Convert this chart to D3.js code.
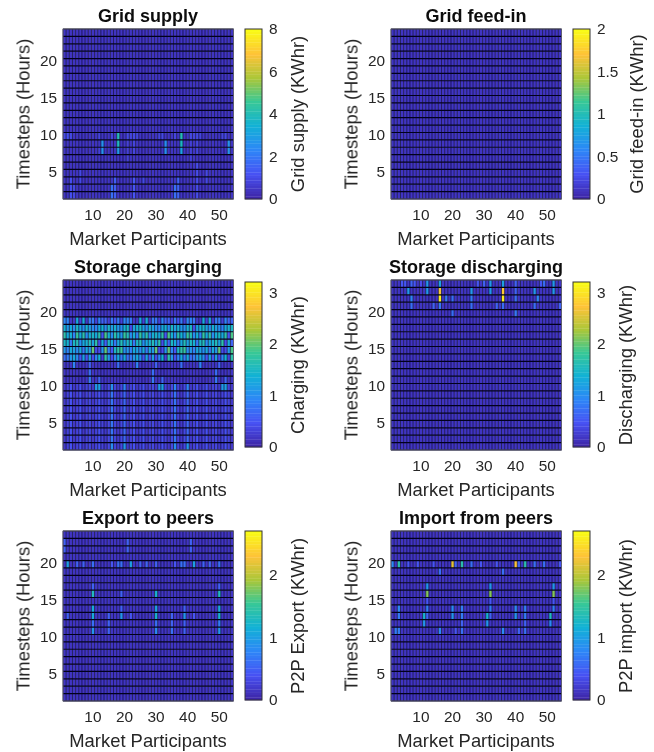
<!DOCTYPE html>
<html>
<head>
<meta charset="utf-8">
<script src="https://cdn.jsdelivr.net/npm/d3@7"></script>
<style>
    html, body { margin: 0; padding: 0; background: #fff; }
    svg { display: block; }
    text { font-family: "Liberation Sans", Arial, sans-serif; fill: #262626; }
    .domain { display: none; }
    .title { font-size: 18px; font-weight: bold; fill: #111; text-anchor: middle; }
    .label { font-size: 18.4px; text-anchor: middle; }
    .tick text { font-size: 15.4px; fill: #262626; }
</style>
</head>
<body>
<svg id="chart" width="654" height="752"></svg>
<script>
// all panels share the same axes
const participants = d3.range(1, 55);
const hours = d3.range(1, 24);
const xTicks = [10, 20, 30, 40, 50];
const yTicks = [5, 10, 15, 20];

// parula stops
const parulaStops = [0, 1 / 7, 2 / 7, 3 / 7, 4 / 7, 5 / 7, 6 / 7, 1];
const parulaColors = ["#3e26a8", "#4752f4", "#2d87f7", "#12b1d6", "#37c897", "#abc739", "#fec338", "#f9fb15"];

// cells as [participant, firstHour, lastHour, kwh], anything not listed reads as the panel's floor
const gridSupply = [
    [18, 9, 9, 4.0], [18, 8, 8, 3.9], [18, 7, 7, 2.8],
    [38, 9, 9, 4.0], [38, 8, 8, 3.8], [38, 7, 7, 3.0],
    [13, 7, 8, 2.6], [33, 7, 8, 2.5], [53, 7, 8, 2.6],
    [1, 9, 9, 0.9], [2, 9, 9, 1.1], [3, 9, 9, 0.9], [12, 9, 9, 0.8], [16, 9, 9, 0.8], [21, 9, 9, 0.9],
    [22, 9, 9, 0.8], [23, 9, 9, 0.9], [24, 9, 9, 0.8], [31, 9, 9, 0.8], [32, 9, 9, 0.9], [36, 9, 9, 0.8],
    [41, 9, 9, 0.9], [42, 9, 9, 0.8], [43, 9, 9, 0.9], [44, 9, 9, 0.8], [51, 9, 9, 0.8], [52, 9, 9, 0.9],
    [3, 1, 3, 1.1], [4, 1, 2, 0.9], [6, 3, 4, 0.9], [12, 7, 7, 0.7], [16, 1, 2, 1.8], [17, 1, 3, 1.4],
    [23, 1, 3, 1.2], [26, 3, 3, 0.9], [36, 1, 2, 1.8], [37, 1, 3, 1.5], [43, 1, 5, 1.0], [46, 3, 4, 0.9],
    [21, 6, 8, 0.7], [23, 7, 8, 0.8], [41, 6, 8, 0.7], [43, 7, 8, 0.8]
];

const gridFeedIn = [];

// hours 13 to 18 are busy enough to keep as whole rows
const chargingHour18 = [0.9, 0.9, 0.2, 0.2, 1.3, 0.3, 1.3, 0.2, 0.8, 0.8, 0.3, 0.9, 0.6, 0.6, 0.3, 0.8, 0.5, 0.8, 0.3, 0.9,
    0.9, 0.8, 0.2, 0.2, 1.3, 0.3, 1.3, 0.2, 0.8, 0.8, 0.3, 0.9, 0.6, 0.6, 0.3, 0.8, 0.5, 0.8, 0.3, 0.9,
    0.9, 0.8, 0.2, 0.2, 1.3, 0.3, 1.3, 0.2, 0.8, 0.8, 0.3, 0.9, 0.6, 0.6];
const chargingHour17 = [1.4, 1.1, 1.3, 1.0, 1.5, 1.2, 1.0, 1.4, 1.2, 1.0, 0.9, 1.3, 1.4, 1.0, 1.5, 1.2, 1.4, 1.1, 1.0, 1.4,
    1.5, 0.4, 1.2, 1.4, 1.5, 1.2, 1.0, 1.4, 1.2, 1.0, 0.9, 1.3, 1.4, 1.0, 1.5, 1.2, 1.4, 1.1, 1.0, 1.4,
    1.5, 0.4, 1.2, 1.4, 1.5, 1.2, 1.0, 1.4, 1.2, 1.0, 0.9, 1.3, 1.4, 1.5];
const chargingHour16 = [1.7, 1.3, 1.4, 0.9, 1.8, 1.3, 1.7, 1.0, 1.4, 1.5, 1.3, 1.7, 0.5, 1.9, 1.4, 1.0, 1.7, 1.4, 1.1, 1.8,
    1.6, 1.0, 1.4, 0.9, 1.8, 1.3, 1.7, 1.0, 1.4, 1.5, 1.3, 1.7, 0.5, 1.9, 1.4, 1.0, 1.7, 1.4, 1.1, 1.8,
    1.6, 1.0, 1.4, 0.9, 1.8, 1.3, 1.7, 1.0, 1.4, 1.5, 1.3, 1.7, 0.5, 1.9];
const chargingHour15 = [1.5, 1.4, 0.8, 1.5, 1.6, 1.0, 1.3, 1.4, 1.6, 1.2, 1.7, 0.4, 1.3, 0.6, 1.5, 1.3, 0.8, 1.3, 1.6, 1.2,
    1.5, 1.4, 0.8, 1.5, 1.6, 1.0, 1.3, 1.4, 1.6, 1.2, 1.7, 0.4, 1.3, 0.6, 1.5, 1.3, 0.8, 1.3, 1.6, 1.2,
    1.5, 1.4, 0.8, 1.5, 1.6, 1.0, 1.3, 1.4, 1.6, 1.2, 1.7, 0.4, 1.3, 0.6];
const chargingHour14 = [1.1, 0.9, 1.3, 1.2, 1.0, 1.3, 0.8, 1.3, 1.1, 2.0, 0.4, 0.4, 1.1, 2.0, 0.9, 0.5, 1.5, 1.7, 1.8, 1.0,
    1.1, 0.9, 1.3, 1.2, 1.0, 1.3, 0.8, 1.3, 1.1, 2.0, 0.4, 0.4, 1.1, 2.0, 0.9, 0.5, 1.5, 1.7, 1.8, 1.0,
    1.1, 0.9, 1.3, 1.2, 1.0, 1.3, 0.8, 1.3, 1.1, 2.0, 0.4, 0.4, 1.1, 1.9];
const chargingHour13 = [0.7, 0.8, 1.1, 1.3, 1.0, 0.5, 1.2, 0.5, 1.2, 0.4, 0.9, 1.4, 0.3, 1.7, 1.1, 0.4, 0.9, 1.3, 0.8, 1.3,
    0.7, 0.8, 1.1, 1.3, 1.0, 0.5, 1.2, 0.5, 1.2, 0.4, 0.9, 1.4, 0.3, 1.7, 1.1, 0.4, 0.9, 1.3, 0.8, 1.3,
    0.7, 0.8, 1.1, 1.3, 1.0, 0.5, 1.2, 0.5, 1.2, 0.4, 0.9, 1.4, 0.3, 1.7];
// hours 1 to 9, mostly flat per participant
const chargingMorning = [0.2, 0.3, 0.45, 0.2, 0.3, 0.45, 0.2, 0.3, 0.35, 0.2, 0.3, 0.45, 0.3, 0.2, 0.35, 0.75, 0.3, 0.2, 0.35, 0.65,
    0.2, 0.3, 0.45, 0.2, 0.3, 0.45, 0.2, 0.3, 0.35, 0.2, 0.3, 0.45, 0.3, 0.2, 0.35, 0.75, 0.3, 0.2, 0.35, 0.65,
    0.2, 0.3, 0.45, 0.2, 0.3, 0.45, 0.2, 0.3, 0.35, 0.2, 0.3, 0.45, 0.3, 0.2];
const chargingOther = [
    [4, 12, 12, 0.9], [9, 12, 12, 0.6], [18, 12, 12, 0.7], [24, 12, 12, 0.9], [30, 12, 12, 0.6], [38, 12, 12, 0.7],
    [44, 12, 12, 0.9], [50, 12, 12, 0.6],
    [9, 11, 11, 0.7], [29, 11, 11, 0.7], [49, 11, 11, 0.7],
    [9, 10, 10, 0.8], [12, 10, 10, 0.6], [29, 10, 10, 0.8], [32, 10, 10, 0.6], [49, 10, 10, 0.8], [52, 10, 10, 0.6],
    [11, 9, 9, 1.1], [12, 9, 9, 1.2], [16, 9, 9, 1.0], [20, 9, 9, 0.9], [31, 9, 9, 1.1], [32, 9, 9, 1.2],
    [36, 9, 9, 0.9], [40, 9, 9, 0.9], [51, 9, 9, 1.1], [52, 9, 9, 1.2],
    [16, 1, 1, 1.0], [20, 1, 1, 1.1], [36, 1, 1, 1.0], [40, 1, 1, 1.1]
];

const discharging = [
    [16, 23, 23, 1.2], [16, 22, 22, 2.7], [16, 21, 21, 3.1], [16, 20, 20, 0.8],
    [36, 23, 23, 1.2], [36, 22, 22, 2.8], [36, 21, 21, 3.1], [36, 20, 20, 0.7],
    [12, 22, 23, 1.1], [32, 22, 23, 1.1], [52, 22, 23, 1.1],
    [6, 22, 22, 1.1], [7, 21, 21, 0.9], [7, 20, 20, 0.7],
    [26, 22, 22, 1.1], [26, 21, 21, 0.8], [26, 20, 20, 0.7],
    [46, 22, 22, 1.1], [47, 21, 21, 0.9], [46, 20, 20, 0.7],
    [18, 21, 21, 0.8], [20, 21, 21, 0.7], [20, 19, 19, 0.7],
    [40, 22, 23, 0.6], [40, 21, 21, 0.7], [40, 19, 19, 0.8],
    [14, 20, 20, 0.6], [34, 20, 20, 0.6], [54, 20, 20, 0.6],
    [4, 23, 23, 0.5], [5, 23, 23, 0.5], [7, 23, 23, 0.6], [8, 23, 23, 0.5], [10, 23, 23, 0.4],
    [28, 23, 23, 0.5], [30, 23, 23, 0.6], [48, 23, 23, 0.5], [49, 23, 23, 0.7]
];

const p2pExport = [
    [2, 19, 19, 1.0], [5, 19, 19, 0.5], [7, 19, 19, 0.5], [10, 19, 19, 0.6], [16, 19, 19, 0.4], [18, 19, 19, 0.6],
    [19, 19, 19, 0.6], [22, 19, 19, 1.0], [25, 19, 19, 0.5], [27, 19, 19, 0.5], [30, 19, 19, 0.5], [36, 19, 19, 0.4],
    [38, 19, 19, 0.6], [39, 19, 19, 0.6], [42, 19, 19, 1.0], [45, 19, 19, 0.5], [47, 19, 19, 0.5], [50, 19, 19, 0.6],
    [1, 21, 22, 0.5], [21, 21, 22, 0.5], [41, 21, 22, 0.5],
    [10, 15, 15, 1.3], [30, 15, 15, 1.2], [50, 15, 15, 1.3], [19, 15, 15, 0.5],
    [10, 16, 16, 0.5], [50, 16, 16, 0.5],
    [10, 13, 13, 1.1], [30, 13, 13, 1.0], [50, 13, 13, 1.1], [19, 13, 13, 0.5], [39, 13, 13, 0.5],
    [10, 12, 12, 1.1], [30, 12, 12, 1.2], [50, 12, 12, 1.2], [19, 12, 12, 0.9], [39, 12, 12, 0.9],
    [15, 12, 12, 0.5], [35, 12, 12, 0.5], [22, 12, 12, 0.4], [42, 12, 12, 0.4], [2, 12, 12, 0.5],
    [10, 11, 11, 0.6], [30, 11, 11, 0.6], [50, 11, 11, 0.7], [15, 11, 11, 0.5], [35, 11, 11, 0.5], [39, 11, 11, 0.5],
    [10, 10, 10, 0.9], [30, 10, 10, 0.8], [50, 10, 10, 0.9], [15, 10, 10, 0.5], [35, 10, 10, 0.6], [39, 10, 10, 0.5]
];

const p2pImport = [
    [1, 19, 19, 0.8], [3, 19, 19, 1.4], [6, 19, 19, 0.4], [9, 19, 19, 0.4], [14, 19, 19, 0.4], [20, 19, 19, 2.2],
    [21, 19, 19, 0.5], [23, 19, 19, 1.4], [26, 19, 19, 0.6], [29, 19, 19, 0.4], [34, 19, 19, 0.4], [40, 19, 19, 2.3],
    [41, 19, 19, 0.5], [43, 19, 19, 1.4], [46, 19, 19, 0.6], [49, 19, 19, 0.6], [54, 19, 19, 0.4],
    [16, 18, 18, 0.6], [36, 18, 18, 0.6],
    [12, 16, 16, 0.9], [32, 16, 16, 0.9], [52, 16, 16, 0.9],
    [12, 15, 15, 1.8], [32, 15, 15, 1.8], [52, 15, 15, 1.8],
    [12, 14, 14, 0.4], [32, 14, 14, 0.4], [52, 14, 14, 0.4],
    [3, 13, 13, 0.8], [12, 13, 13, 0.7], [20, 13, 13, 0.8], [23, 13, 13, 0.7], [32, 13, 13, 0.7], [40, 13, 13, 0.8],
    [43, 13, 13, 0.7], [52, 13, 13, 0.7],
    [3, 12, 12, 0.7], [11, 12, 12, 1.2], [12, 12, 12, 0.5], [20, 12, 12, 0.9], [23, 12, 12, 0.7], [31, 12, 12, 1.2],
    [32, 12, 12, 0.5], [40, 12, 12, 0.9], [43, 12, 12, 0.7], [51, 12, 12, 1.3],
    [11, 11, 11, 0.9], [23, 11, 11, 0.5], [31, 11, 11, 0.9], [43, 11, 11, 0.5], [51, 11, 11, 0.8],
    [2, 10, 10, 0.7], [3, 10, 10, 0.7], [16, 10, 10, 0.8], [21, 10, 10, 0.4], [23, 10, 10, 0.6], [36, 10, 10, 0.8],
    [41, 10, 10, 0.5], [43, 10, 10, 0.6]
];

const svg = d3.select("#chart");
const parulaT = d3.scaleLinear().domain(parulaStops).range(parulaColors).interpolate(d3.interpolateRgb);

let defs = svg.append("defs");
defs.append("filter").attr("id", "soft")
    .append("feGaussianBlur").attr("stdDeviation", "0.3 0.45");
defs.append("filter").attr("id", "softText")
    .append("feGaussianBlur").attr("stdDeviation", 0.3);

// turns the run lists into a hour -> participant -> kwh lookup
function toGrid(runs, rows, floor) {
    let grid = {};
    hours.forEach(h => { grid[h] = participants.map(() => floor); });
    for (let h in rows) {
        grid[h] = rows[h].slice();
    }
    runs.forEach(r => {
        for (let h = r[1]; h <= r[2]; h++) {
            grid[h][r[0] - 1] = r[3];
        }
    });
    return grid;
}

function drawPanel(p) {
    let x = d3.scaleLinear().domain([1, 55]).range([p.left, p.left + 170.5]);
    let y = d3.scaleLinear().domain([1, 24]).range([p.top + 170, p.top]);
    let grid = toGrid(p.runs, p.rows || {}, p.floor);
    let g = svg.append("g");

    let cells = g.append("g").attr("filter", "url(#soft)");
    hours.forEach(h => {
        cells.selectAll(null)
            .data(participants)
            .enter()
            .append("rect")
            .attr("x", d => x(d))
            .attr("y", y(h + 1))
            .attr("width", x(2) - x(1) + 0.1)
            .attr("height", y(1) - y(2) + 0.1)
            .attr("fill", d => parulaT(grid[h][d - 1] / p.max));
    });

    // edges: the horizontal ones read stronger than the vertical ones
    cells.selectAll(null)
        .data(d3.range(1, 56))
        .enter()
        .append("line")
        .attr("x1", d => x(d))
        .attr("x2", d => x(d))
        .attr("y1", y(1))
        .attr("y2", y(24))
        .attr("stroke", "#0c0830")
        .attr("stroke-width", 0.7);
    cells.selectAll(null)
        .data(d3.range(1, 25))
        .enter()
        .append("line")
        .attr("x1", x(1))
        .attr("x2", x(55))
        .attr("y1", d => y(d))
        .attr("y2", d => y(d))
        .attr("stroke", "#05031c")
        .attr("stroke-width", 1.2);

    g.append("rect")
        .attr("x", x(1))
        .attr("y", y(24))
        .attr("width", x(55) - x(1))
        .attr("height", y(1) - y(24))
        .attr("fill", "none")
        .attr("stroke", "#6a6a78")
        .attr("stroke-width", 0.8);

    g.append("g")
        .attr("transform", "translate(0," + (p.top + 170) + ")")
        .call(d3.axisBottom(x).tickValues(xTicks).tickSize(0).tickPadding(10))
        .selectAll("text").attr("dx", 1);
    g.append("g")
        .attr("transform", "translate(" + p.left + ",0)")
        .call(d3.axisLeft(y).tickValues(yTicks).tickSize(0).tickPadding(6))
        .selectAll("text").attr("dy", "0.32em").attr("y", 2.3);

    g.append("text").attr("class", "title")
        .attr("x", p.left + 85).attr("y", p.top - p.titleGap).text(p.title);
    g.append("text").attr("class", "label")
        .attr("x", p.left + 85).attr("y", p.top + 216).text("Market Participants");
    g.append("text").attr("class", "label")
        .attr("transform", "translate(" + (p.left - 33.5) + "," + (p.top + 85) + ") rotate(-90)")
        .text("Timesteps (Hours)");

    // colorbar
    let barX = p.left + 182;
    let barY = d3.scaleLinear().domain([0, p.max]).range([p.top + p.barBottom, p.top + p.barTop]);
    let levels = d3.range(64);
    let barStep = (barY(0) - barY(p.max)) / 64;
    g.append("g").selectAll("rect")
        .data(levels)
        .enter()
        .append("rect")
        .attr("x", barX)
        .attr("y", d => barY(0) - (d + 1) * barStep)
        .attr("width", 17)
        .attr("height", barStep + 0.3)
        .attr("fill", d => parulaT(d / 63));
    g.append("rect")
        .attr("x", barX)
        .attr("y", barY(p.max))
        .attr("width", 17)
        .attr("height", barY(0) - barY(p.max))
        .attr("fill", "none")
        .attr("stroke", "#333")
        .attr("stroke-width", 1);
    g.append("g")
        .attr("transform", "translate(" + (barX + 17) + ",0)")
        .call(d3.axisRight(barY).tickValues(p.barTicks).tickFormat(d => d).tickSize(0).tickPadding(7));
    // the feed-in label sits further out because of its wider tick labels
    g.append("text").attr("class", "label")
        .attr("transform", "translate(" + (barX + p.barLabelGap) + "," + (p.top + 85) + ") rotate(-90)")
        .text(p.barLabel);

    g.selectAll("text").attr("filter", "url(#softText)");
}

const chargingRows = {
    18: chargingHour18, 17: chargingHour17, 16: chargingHour16, 15: chargingHour15, 14: chargingHour14, 13: chargingHour13,
    1: chargingMorning, 2: chargingMorning, 3: chargingMorning, 4: chargingMorning,
    5: chargingMorning, 6: chargingMorning, 7: chargingMorning, 8: chargingMorning, 9: chargingMorning
};

const panels = [
    { title: "Grid supply", barLabel: "Grid supply (KWhr)", runs: gridSupply, floor: 0.4, max: 8, barTicks: [0, 2, 4, 6, 8],
        left: 63, top: 29, barTop: 0, barBottom: 170, titleGap: 7, barLabelGap: 59 },
    { title: "Grid feed-in", barLabel: "Grid feed-in (KWhr)", runs: gridFeedIn, floor: 0.1, max: 2, barTicks: [0, 0.5, 1, 1.5, 2],
        left: 391, top: 29, barTop: 0, barBottom: 170, titleGap: 7, barLabelGap: 70 },
    { title: "Storage charging", barLabel: "Charging (KWhr)", runs: chargingOther, rows: chargingRows, floor: 0.16, max: 3.2, barTicks: [0, 1, 2, 3],
        left: 63, top: 280, barTop: 2, barBottom: 167, titleGap: 7, barLabelGap: 59 },
    { title: "Storage discharging", barLabel: "Discharging (KWhr)", runs: discharging, floor: 0.16, max: 3.2, barTicks: [0, 1, 2, 3],
        left: 391, top: 280, barTop: 2, barBottom: 167, titleGap: 7, barLabelGap: 59 },
    { title: "Export to peers", barLabel: "P2P Export (KWhr)", runs: p2pExport, floor: 0.135, max: 2.7, barTicks: [0, 1, 2],
        left: 63, top: 531, barTop: 0, barBottom: 169, titleGap: 7, barLabelGap: 59 },
    { title: "Import from peers", barLabel: "P2P import (KWhr)", runs: p2pImport, floor: 0.135, max: 2.7, barTicks: [0, 1, 2],
        left: 391, top: 531, barTop: 0, barBottom: 169, titleGap: 7, barLabelGap: 59 }
];

panels.forEach(drawPanel);
</script>
</body>
</html>
